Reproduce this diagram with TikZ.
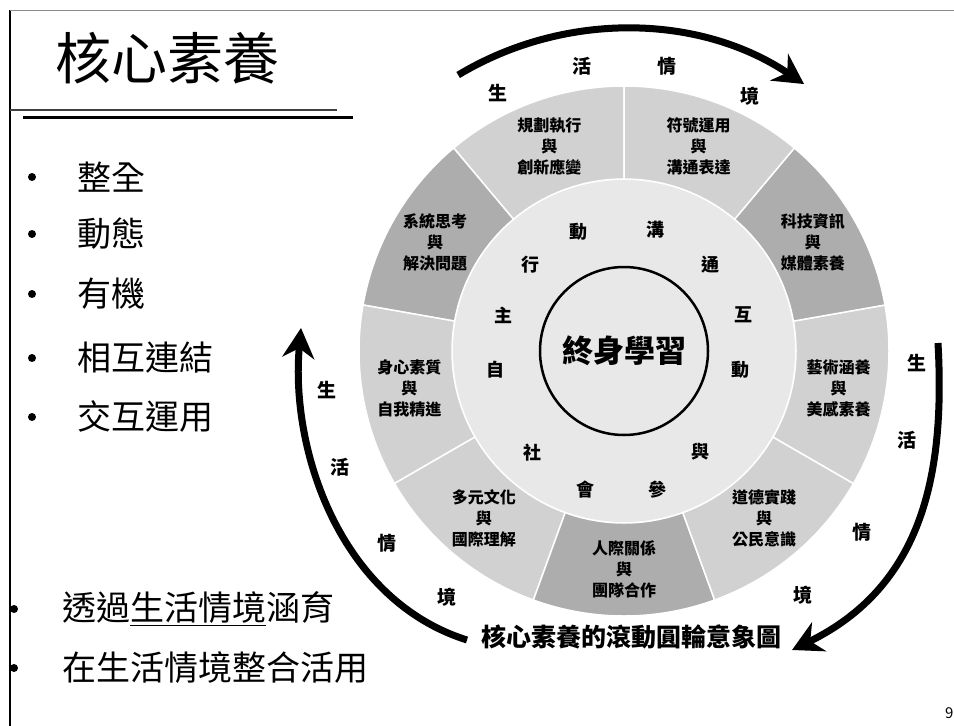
\documentclass[tikz,border=0pt]{standalone}
\usepackage{fontspec}
\setmainfont{Noto Sans CJK TC}
\usetikzlibrary{calc,positioning,arrows.meta}
\definecolor{ringlight}{gray}{0.82}
\definecolor{ringdark}{gray}{0.68}
\definecolor{innerdisk}{gray}{0.91}
\tikzset{
	>={Stealth[length=30pt,width=32pt]},
	wedge/.style={draw=white, line width=1.5pt},
	segtext/.style={
		align=center,
		font=\bfseries\fontsize{16}{21}\selectfont,
		inner sep=0pt},
	ringchar/.style={font=\bfseries\fontsize{18}{18}\selectfont, inner sep=0pt},
	flowlabel/.style={font=\bfseries\fontsize{19}{19}\selectfont, inner sep=0pt},
	flowarrow/.style={draw, line width=7pt, ->},
	listitem/.style={anchor=west, font=\fontsize{34}{34}\selectfont, inner sep=0pt},
	bulletdot/.style={circle, fill=black, inner sep=0pt, minimum size=8pt},
}

\begin{document}
\begin{tikzpicture}[x=1pt, y=1pt]
	\useasboundingbox (0,0) rectangle (954,-726);
	% frame and title
	\draw[line width=1.5pt] (10,-10) -- (10,-726);
	\draw[line width=0.8pt, black!45] (10,-10) -- (954,-10);
	\node[font=\fontsize{56}{56}\selectfont, inner sep=0pt] (title) at (168,-58) {核心素養};
	\draw[line width=2.5pt, black!75] (10,-110) -- (337,-110);
	\draw[line width=3pt] (23,-117) -- (353,-117);
	
	% bullet list
	\foreach \y/\txt [count=\i] in {177/整全, 234/動態, 294/有機, 358/相互連結, 417/交互運用}{
		\node[bulletdot] (d\i) at (32,-\y) {};
		\node[listitem] (t\i) at (77,-\y) {\txt};
	}
	\node[bulletdot] (d6) at (14,-609) {};
	\node[listitem] (t6) at (62,-609) {透過\underline{生活情境}涵育};
	\node[bulletdot] (d7) at (14,-668) {};
	\node[listitem] (t7) at (62,-668) {在生活情境整合活用};
	
	% wheel
	\coordinate (c) at (624,-351);
	\foreach \a/\col in {90/ringlight, 130/ringdark, 170/ringlight, 210/ringlight, 250/ringdark, 290/ringlight, 330/ringlight, 10/ringdark, 50/ringlight}
		\filldraw[wedge, fill=\col] ($(c)+(\a:172pt)$) arc[start angle=\a, delta angle=40, radius=172pt]
			-- ($(c)+(\a+40:265pt)$) arc[start angle=\a+40, delta angle=-40, radius=265pt] -- cycle;
	\fill[innerdisk] (c) circle[radius=171pt];
	\node[circle, draw, line width=2.5pt, fill=innerdisk, minimum size=168pt, inner sep=0pt,
		font=\bfseries\fontsize{31}{31}\selectfont] (core) at (c) {終身學習};
	
	% nine competencies
	\foreach \ang/\up/\down [count=\i] in {110/規劃執行/創新應變, 70/符號運用/溝通表達, 30/科技資訊/媒體素養,
		-10/藝術涵養/美感素養, -50/道德實踐/公民意識, -90/人際關係/團隊合作,
		-130/多元文化/國際理解, -170/身心素質/自我精進, 150/系統思考/解決問題}
		\node[segtext] (s\i) at ($(c)+(\ang:218pt)$) {\up\\與\\\down};
	
	% three dimensions
	\foreach \x/\y/\ch [count=\i] in {495/370/自, 503/315/主, 530/265/行, 578/232/動,
		655/230/溝, 710/265/通, 743/315/互, 740/370/動,
		532/453/社, 585/490/會, 657/490/參, 700/452/與}
		\node[ringchar] (m\i) at (\x,-\y) {\ch};
	
	% rolling arrows
	\coordinate (topA) at ($(c)+(121:322pt)$);
	\coordinate (topB) at ($(c)+(56:322pt)$);
	\coordinate (rightA) at (938,-343);
	\coordinate (rightB) at (792,-650);
	\coordinate (leftA) at (467,-640);
	\coordinate (leftB) at (301,-328);
	\draw[flowarrow] (topA) arc[start angle=121, end angle=56, radius=322pt];
	\draw[flowarrow] (rightA) .. controls (945,-470) and (925,-585) .. (rightB);
	\draw[flowarrow] (leftA) .. controls (340,-600) and (290,-450) .. (leftB);
	
	\foreach \x/\y/\ch [count=\i] in {498/93/生, 582/66/活, 667/66/情, 750/96/境,
		917/363/生, 907/440/活, 862/532/情, 803/595/境,
		327/390/生, 340/467/活, 387/543/情, 447/597/境}
		\node[flowlabel] (l\i) at (\x,-\y) {\ch};
	
	\node[font=\bfseries\fontsize{25}{25}\selectfont] (caption) at (631,-637) {核心素養的滾動圓輪意象圖};
	\node[anchor=west, font=\fontsize{15}{15}\selectfont, inner sep=0pt] (page) at (945,-713) {9};
\end{tikzpicture}
\end{document}
